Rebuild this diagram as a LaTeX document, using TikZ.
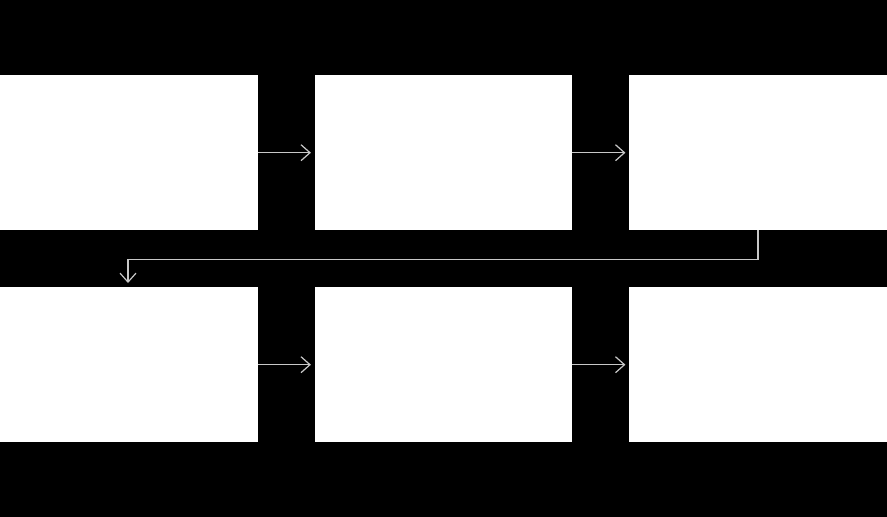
\documentclass[tikz,border=0pt]{standalone}
\usetikzlibrary{arrows.meta}
\begin{document}
\begin{tikzpicture}[x=1pt,y=-1pt,
  box/.style={fill=white,draw=none,minimum width=257.5pt,minimum height=155pt,inner sep=0pt,anchor=north west},
  link/.style={draw={rgb,255:red,200;green,200;blue,200},line width=1.2pt,-{Straight Barb[length=9pt,width=16pt,line width=1.2pt]}}]
\fill[black] (0,0) rectangle (887,517);
\useasboundingbox (0,0) rectangle (887,517);
\node[box] (a) at (0,75) {};
\node[box] (b) at (314.5,75) {};
\node[box] (c) at (629,75) {};
\node[box] (d) at (0,287) {};
\node[box] (e) at (314.5,287) {};
\node[box] (f) at (629,287) {};
\draw[link] (a.east) -- ++(53,0);
\draw[link] (b.east) -- ++(53,0);
\draw[link] (d.east) -- ++(53,0);
\draw[link] (e.east) -- ++(53,0);
\coordinate (t) at (128,283);
\draw[link] (c.south) -- ++(0,29) -| (t);
\end{tikzpicture}
\end{document}
